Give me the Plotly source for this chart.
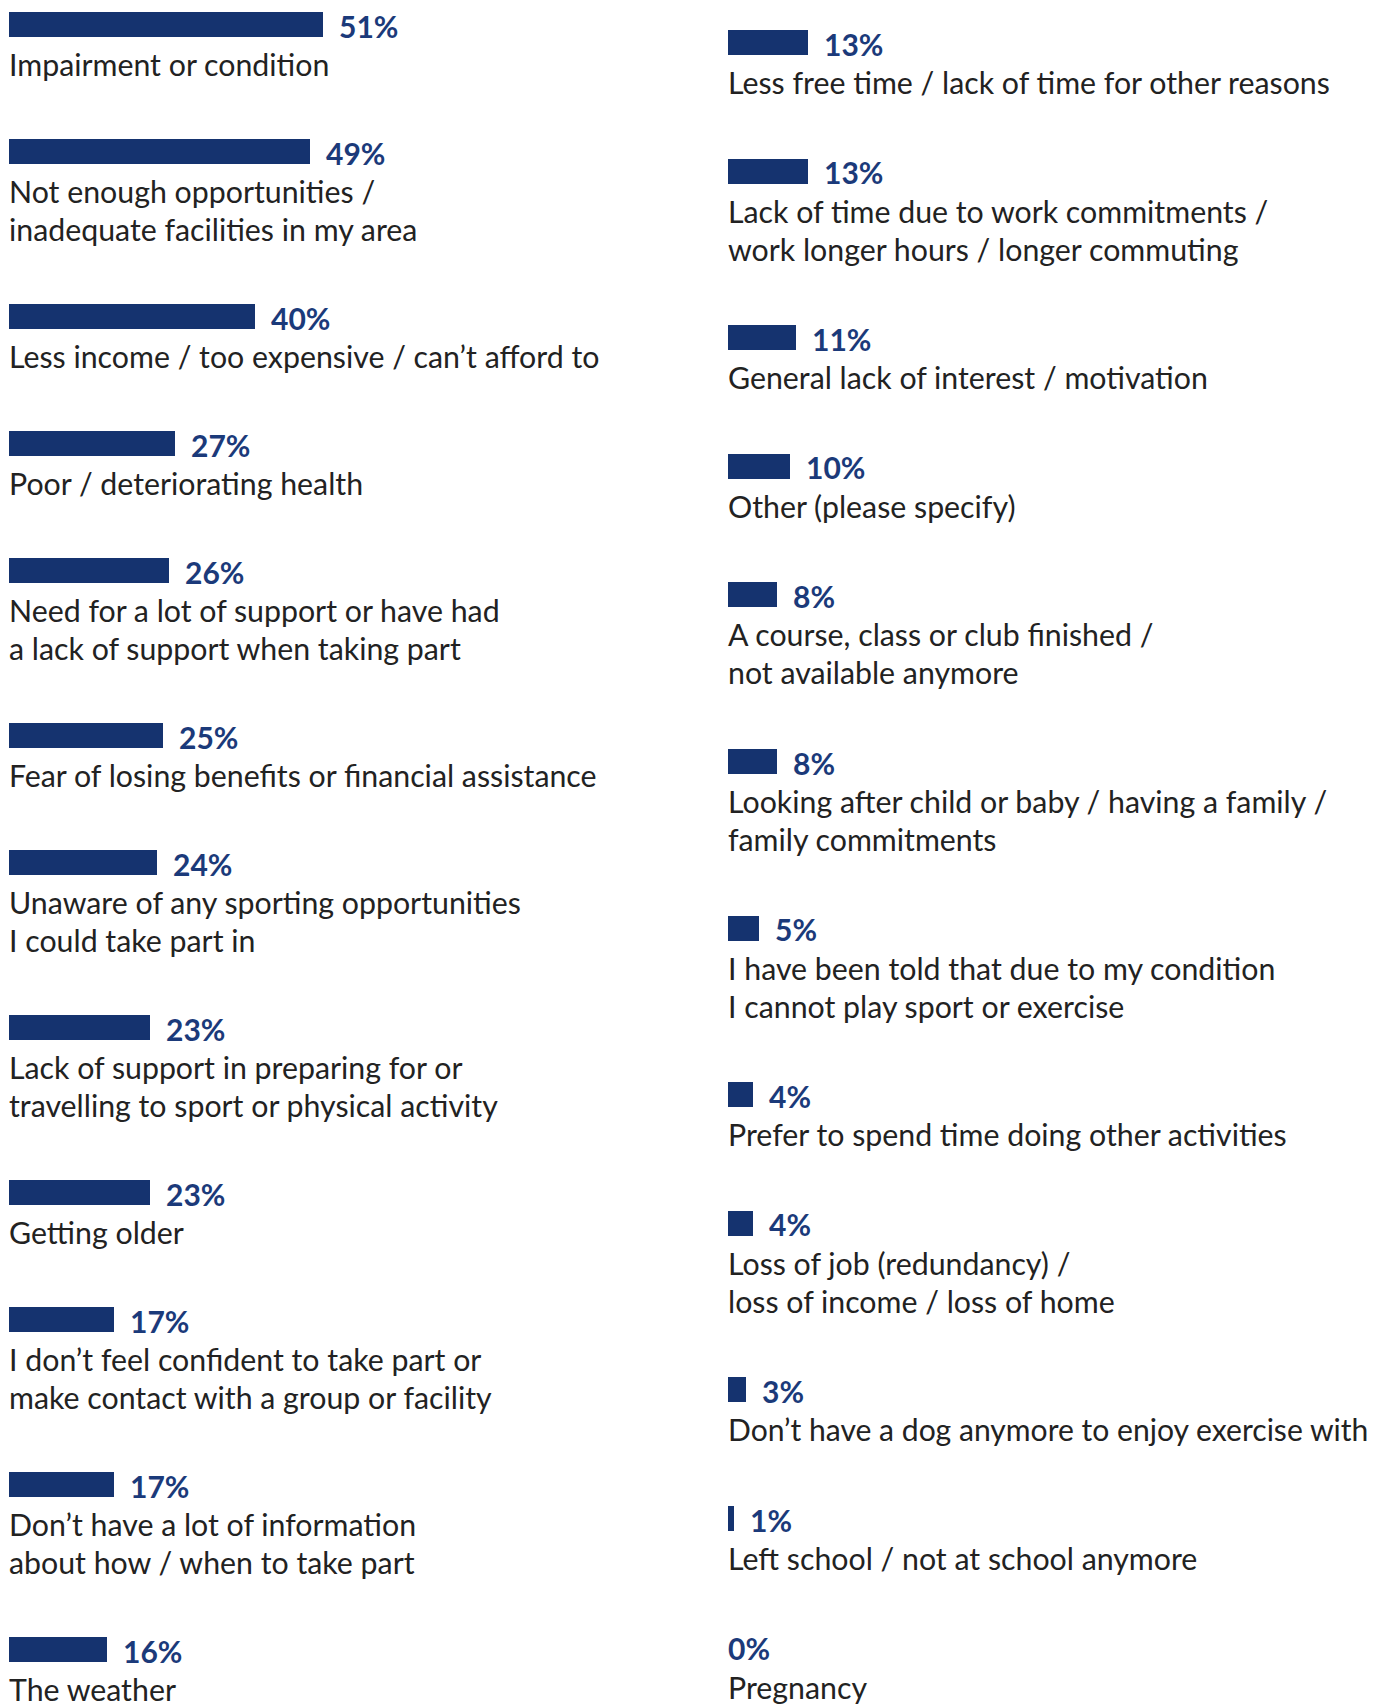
import plotly.graph_objects as go

# ---- data ----
left_labels = [
    "Impairment or condition",
    "Not enough opportunities /<br>inadequate facilities in my area",
    "Less income / too expensive / can’t afford to",
    "Poor / deteriorating health",
    "Need for a lot of support or have had<br>a lack of support when taking part",
    "Fear of losing benefits or financial assistance",
    "Unaware of any sporting opportunities<br>I could take part in",
    "Lack of support in preparing for or<br>travelling to sport or physical activity",
    "Getting older",
    "I don’t feel confident to take part or<br>make contact with a group or facility",
    "Don’t have a lot of information<br>about how / when to take part",
    "The weather",
]
left_values = [51, 49, 40, 27, 26, 25, 24, 23, 23, 17, 17, 16]

right_labels = [
    "Less free time / lack of time for other reasons",
    "Lack of time due to work commitments /<br>work longer hours / longer commuting",
    "General lack of interest / motivation",
    "Other (please specify)",
    "A course, class or club finished /<br>not available anymore",
    "Looking after child or baby / having a family /<br>family commitments",
    "I have been told that due to my condition<br>I cannot play sport or exercise",
    "Prefer to spend time doing other activities",
    "Loss of job (redundancy) /<br>loss of income / loss of home",
    "Don’t have a dog anymore to enjoy exercise with",
    "Left school / not at school anymore",
    "Pregnancy",
]
right_values = [13, 13, 11, 10, 8, 8, 5, 4, 4, 3, 1, 0]

# ---- layout / style constants ----
W, H = 1373, 1704
PX_PER_PCT = 6.15
BAR_H = 25
LINE_H = 38
BAR_COLOR = "#15336f"
PCT_COLOR = "#1b3a7a"
TXT_COLOR = "#222222"
FONT = "Lato"
LABEL_SIZE = 30.3
PCT_SIZE = 30
# lines that must be squeezed to fit the page width (column, row) -> size
SIZE_OVERRIDE = {("right", 9): 30.1}


def row_tops(labels, start, gap):
    tops = []
    y = start
    for lab in labels:
        tops.append(y)
        y += gap + LINE_H * (lab.count("<br>") + 1)
    return tops


columns = [
    dict(name="left", labels=left_labels, values=left_values, x0=9, start=12, gap=89,
         xa="x", xname="xaxis"),
    dict(name="right", labels=right_labels, values=right_values, x0=728, start=30, gap=90.6,
         xa="x2", xname="xaxis2"),
]

fig = go.Figure()
annotations = []
layout_axes = {}

for col in columns:
    tops = row_tops(col["labels"], col["start"], col["gap"])
    centers = [t + BAR_H / 2 for t in tops]
    fig.add_trace(go.Bar(
        x=col["values"], y=centers, orientation="h", width=BAR_H,
        marker=dict(color=BAR_COLOR, line=dict(width=0)),
        xaxis=col["xa"], yaxis="y", hoverinfo="skip", showlegend=False,
    ))
    for i, (v, lab, t, c) in enumerate(zip(col["values"], col["labels"], tops, centers)):
        annotations.append(dict(
            x=v, y=c, xref=col["xa"], yref="y", text=f"<b>{v}%</b>",
            showarrow=False, xanchor="left", yanchor="middle",
            xshift=14 if v > 0 else -2, yshift=-1,
            font=dict(family=FONT, size=PCT_SIZE, color=PCT_COLOR),
        ))
        size = SIZE_OVERRIDE.get((col["name"], i), LABEL_SIZE)
        for k, line in enumerate(lab.split("<br>")):
            annotations.append(dict(
                x=0, y=t + BAR_H + 7 + k * LINE_H, xref=col["xa"], yref="y", text=line,
                showarrow=False, xanchor="left", yanchor="top", align="left",
                xshift=-2,
                font=dict(family=FONT, size=size, color=TXT_COLOR),
            ))
    d0 = col["x0"] / W
    d1 = (col["x0"] + 100 * PX_PER_PCT) / W
    layout_axes[col["xname"]] = dict(domain=[d0, d1], range=[0, 100], visible=False,
                                     fixedrange=True, anchor="y")

fig.update_layout(
    width=W, height=H,
    margin=dict(l=0, r=0, t=0, b=0),
    paper_bgcolor="white", plot_bgcolor="white",
    yaxis=dict(range=[H, 0], domain=[0, 1], visible=False, fixedrange=True),
    annotations=annotations,
    bargap=0,
    **layout_axes,
)

fig.write_html(
    "out.html",
    config={"displayModeBar": False},
    post_script="document.body.style.margin='0';document.body.style.overflow='hidden';",
)
